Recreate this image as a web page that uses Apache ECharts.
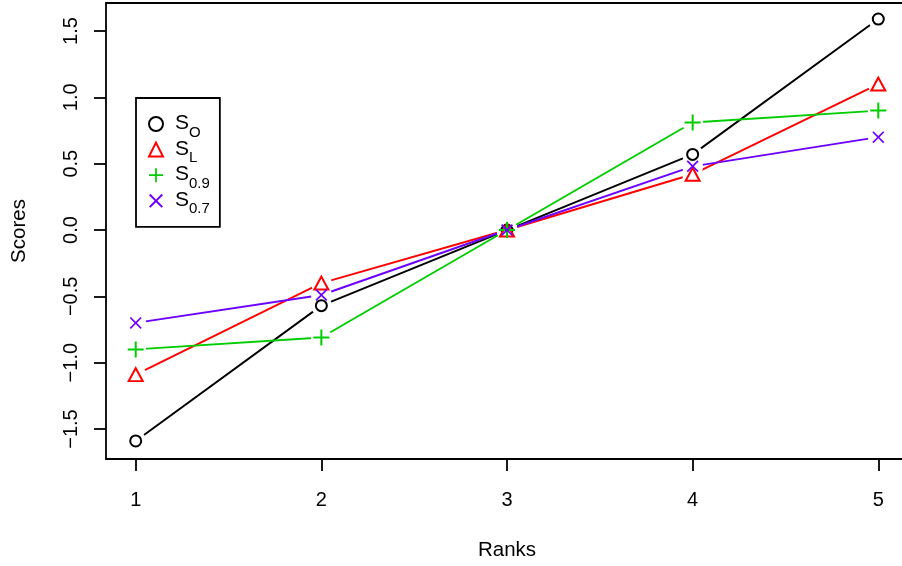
<!DOCTYPE html>
<html>
<head>
<meta charset="utf-8">
<script src="https://cdn.jsdelivr.net/npm/echarts@6/dist/echarts.min.js"></script>
<style>
html,body{margin:0;padding:0;background:#fff;}
#c{width:902px;height:566px;}
</style>
</head>
<body>
<div id="c"></div>
<script>
const ranks = [1, 2, 3, 4, 5];
const sO = [-1.59, -0.57, 0, 0.57, 1.59];
const sL = [-1.09, -0.40, 0, 0.42, 1.10];
const s09 = [-0.90, -0.81, 0, 0.81, 0.90];
const s07 = [-0.70, -0.49, 0, 0.48, 0.70];
const seriesNames = ['SO', 'SL', 'S0.9', 'S0.7'];
const subscripts = ['O', 'L', '0.9', '0.7'];
const yTicks = [-1.5, -1.0, -0.5, 0, 0.5, 1.0, 1.5];
const xTicks = [1, 2, 3, 4, 5];

const colors = ['#000000', '#FF0000', '#00CD00', '#6C00FF'];
const plusPath = 'path://M7,0H9V7H16V9H9V16H7V9H0V7H7Z';
const crossPath = 'path://M0,1.2L1.2,0L6,4.8L10.8,0L12,1.2L7.2,6L12,10.8L10.8,12L6,7.2L1.2,12L0,10.8L4.8,6Z';
const symbols = ['emptyCircle', 'emptyTriangle', plusPath, crossPath];
const symSizes = [11, [14, 13], 16, 12];
const allData = [sO, sL, s09, s07];

const pairs = arr => ranks.map((r, i) => [r, arr[i]]);

const series = [];
allData.forEach((arr, k) => {
  series.push({
    type: 'line', name: 'line' + k, data: pairs(arr), showSymbol: false,
    symbol: 'none', silent: true, z: 2,
    lineStyle: { color: colors[k], width: 1.9, opacity: 1 }
  });
});
allData.forEach((arr, k) => {
  series.push({
    type: 'scatter', name: 'halo' + k, data: pairs(arr), symbol: 'circle',
    symbolSize: 21, silent: true, z: 5,
    itemStyle: { color: '#ffffff', opacity: 1 }
  });
});
allData.forEach((arr, k) => {
  const empty = k < 2;
  series.push({
    type: 'scatter', name: seriesNames[k], data: pairs(arr), symbol: symbols[k],
    symbolSize: symSizes[k], z: 8,
    itemStyle: empty ? { color: colors[k], borderColor: colors[k], borderWidth: 1.9, opacity: 1 } : { color: colors[k], opacity: 1 }
  });
});

const chart = echarts.init(document.getElementById('c'), null, { renderer: 'canvas' });
chart.setOption({
  animation: false,
  backgroundColor: '#ffffff',
  textStyle: { fontFamily: 'Liberation Sans, Arial, sans-serif' },
  grid: { left: 106, top: 3, right: -6, height: 456, containLabel: false, outerBoundsMode: 'none',
    show: true, borderColor: '#000', borderWidth: 1.8, backgroundColor: 'transparent' },
  xAxis: {
    type: 'value', min: 0.84, max: 5.16,
    name: 'Ranks', nameLocation: 'middle', nameGap: 81,
    nameTextStyle: { fontSize: 20.5, color: '#000', fontFamily: 'Liberation Sans' },
    axisLine: { show: false, onZero: false },
    splitLine: { show: false },
    axisTick: { show: true, length: 12, customValues: xTicks, lineStyle: { color: '#000', width: 1.8 } },
    axisLabel: { customValues: xTicks, margin: 31, fontSize: 20, color: '#000', fontFamily: 'Liberation Sans', formatter: v => String(v) }
  },
  yAxis: {
    type: 'value', min: -1.726, max: 1.711,
    name: 'Scores', nameLocation: 'middle', nameGap: 76, nameRotate: 90,
    nameTextStyle: { fontSize: 20.5, color: '#000', fontFamily: 'Liberation Sans' },
    axisLine: { show: false, onZero: false },
    splitLine: { show: false },
    axisTick: { show: true, length: 12, customValues: yTicks, lineStyle: { color: '#000', width: 1.8 } },
    axisLabel: { customValues: yTicks, rotate: 90, margin: 25, fontSize: 20, color: '#000', fontFamily: 'Liberation Sans',
      formatter: v => v.toFixed(1).replace('-', '\u2212') }
  },
  legend: {
    orient: 'vertical', left: 136, top: 98,
    data: seriesNames.map((n, k) => ({ name: n, icon: symbols[k] })),
    itemWidth: 14, itemHeight: 14, itemGap: -1.4,
    padding: [15, 10, 10, 12],
    borderColor: '#000', borderWidth: 1.8,
    formatter: name => '{s|S}{sub|' + subscripts[seriesNames.indexOf(name)] + '}',
    textStyle: {
      padding: [0, 0, 0, 7],
      rich: {
        s: { fontSize: 21, color: '#000', fontFamily: 'Liberation Sans', lineHeight: 20, verticalAlign: 'bottom' },
        sub: { fontSize: 15, color: '#000', fontFamily: 'Liberation Sans', lineHeight: 20, verticalAlign: 'bottom', padding: [0, 0, -6, 0] }
      }
    }
  },
  series: series
});
</script>
</body>
</html>
